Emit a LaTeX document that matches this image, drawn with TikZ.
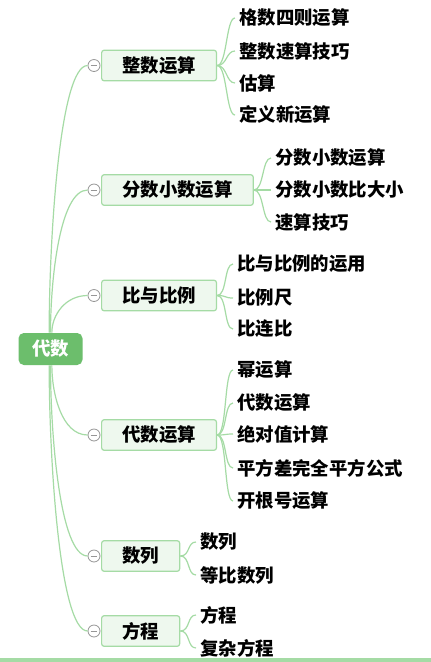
\documentclass[tikz,border=0pt]{standalone}
\usepackage{fontspec}
\setmainfont{Noto Sans CJK SC}
\usepackage{tikz}
\usetikzlibrary{calc,positioning}
\usepackage{xcolor}
\definecolor{rootgreen}{RGB}{108,190,108}
\definecolor{linkgreen}{RGB}{165,219,165}
\definecolor{boxgreen}{RGB}{238,248,238}
\definecolor{foldgray}{RGB}{150,150,150}

\begin{document}
\begin{tikzpicture}[x=0.75pt,y=-0.75pt]
        % Define the styles
        \tikzstyle{root}=[rectangle,rounded corners=4pt,fill=rootgreen,text=white,font=\bfseries\fontsize{13.8}{16}\selectfont,minimum width=48pt,minimum height=24pt,inner sep=0pt]
        \tikzstyle{topic}=[rectangle,rounded corners=2pt,draw=linkgreen,fill=boxgreen,line width=0.9pt,font=\bfseries\fontsize{13.8}{16}\selectfont,anchor=west,inner xsep=15.5pt,minimum height=23pt]
        \tikzstyle{leaf}=[anchor=west,inner xsep=3pt,inner ysep=1pt,font=\bfseries\fontsize{13.8}{16}\selectfont]
        \tikzstyle{fold}=[circle,draw=foldgray,fill=white,line width=0.6pt,minimum size=9pt,inner sep=0pt,
            path picture={\draw[foldgray,line width=0.6pt] ([xshift=-2.6pt]path picture bounding box.center) -- ([xshift=2.6pt]path picture bounding box.center);}]
        \tikzstyle{link}=[draw=linkgreen,line width=0.9pt]

        % Frame
        \useasboundingbox (0,0) rectangle (431,662);
        \fill[white] (0,0) rectangle (431,662);
        \fill[linkgreen] (0,658) rectangle (431,662);

        % Root
        \node (ds)[root] at (50.5,349) {代数};

        % Main topics
        \node (zs)[topic] at (101,65.5) {整数运算};
        \node (fx)[topic] at (101,190) {分数小数运算};
        \node (bl)[topic] at (101,295.5) {比与比例};
        \node (dy)[topic] at (101,435) {代数运算};
        \node (sl)[topic] at (101,556) {数列};
        \node (fc)[topic] at (101,631) {方程};

        % Fold markers
        \node (zsf)[fold] at (94,65.5) {};
        \node (fxf)[fold] at (94,190) {};
        \node (blf)[fold] at (94,295.5) {};
        \node (dyf)[fold] at (94,435) {};
        \node (slf)[fold] at (94,556) {};
        \node (fcf)[fold] at (94,631) {};

        % Root to topics
        \draw[link] ([xshift=-1pt]ds.north) .. controls +(0,-93) and +(-28,0) .. (zsf.west);
        \draw[link] (ds.north) .. controls +(0,-52) and +(-28,0) .. (fxf.west);
        \draw[link] ([xshift=1pt]ds.north) .. controls +(0,-18) and +(-22,0) .. (blf.west);
        \draw[link] ([xshift=1pt]ds.south) .. controls +(0,28) and +(-26,0) .. (dyf.west);
        \draw[link] (ds.south) .. controls +(0,67) and +(-28,0) .. (slf.west);
        \draw[link] ([xshift=-1pt]ds.south) .. controls +(0,93) and +(-28,0) .. (fcf.west);

        % Leaves of 整数运算
        \node (zs1)[leaf] at (235,18) {格数四则运算};
        \node (zs2)[leaf] at (235,51) {整数速算技巧};
        \node (zs3)[leaf] at (235,83) {估算};
        \node (zs4)[leaf] at (235,115) {定义新运算};

        % Leaves of 分数小数运算
        \node (fx1)[leaf] at (271,158) {分数小数运算};
        \node (fx2)[leaf] at (271,190) {分数小数比大小};
        \node (fx3)[leaf] at (271,222) {速算技巧};

        % Leaves of 比与比例
        \node (bl1)[leaf] at (233,264) {比与比例的运用};
        \node (bl2)[leaf] at (233,298) {比例尺};
        \node (bl3)[leaf] at (233,329) {比连比};

        % Leaves of 代数运算
        \node (dy1)[leaf] at (233,370) {幂运算};
        \node (dy2)[leaf] at (233,403) {代数运算};
        \node (dy3)[leaf] at (233,434) {绝对值计算};
        \node (dy4)[leaf] at (233,468) {平方差完全平方公式};
        \node (dy5)[leaf] at (233,501) {开根号运算};

        % Leaves of 数列
        \node (sl1)[leaf] at (196,542) {数列};
        \node (sl2)[leaf] at (196,575) {等比数列};

        % Leaves of 方程
        \node (fc1)[leaf] at (196,615) {方程};
        \node (fc2)[leaf] at (196,648) {复杂方程};

        % Topics to leaves
        \foreach \t/\l in {zs/zs1,zs/zs2,zs/zs3,zs/zs4,fx/fx1,fx/fx2,fx/fx3,bl/bl1,bl/bl2,bl/bl3,
                           dy/dy1,dy/dy2,dy/dy3,dy/dy4,dy/dy5,sl/sl1,sl/sl2,fc/fc1,fc/fc2}
            \draw[link] (\t.east) .. controls +(10,0) and +(-9,0) .. (\l.west);
    \end{tikzpicture}
\end{document}
